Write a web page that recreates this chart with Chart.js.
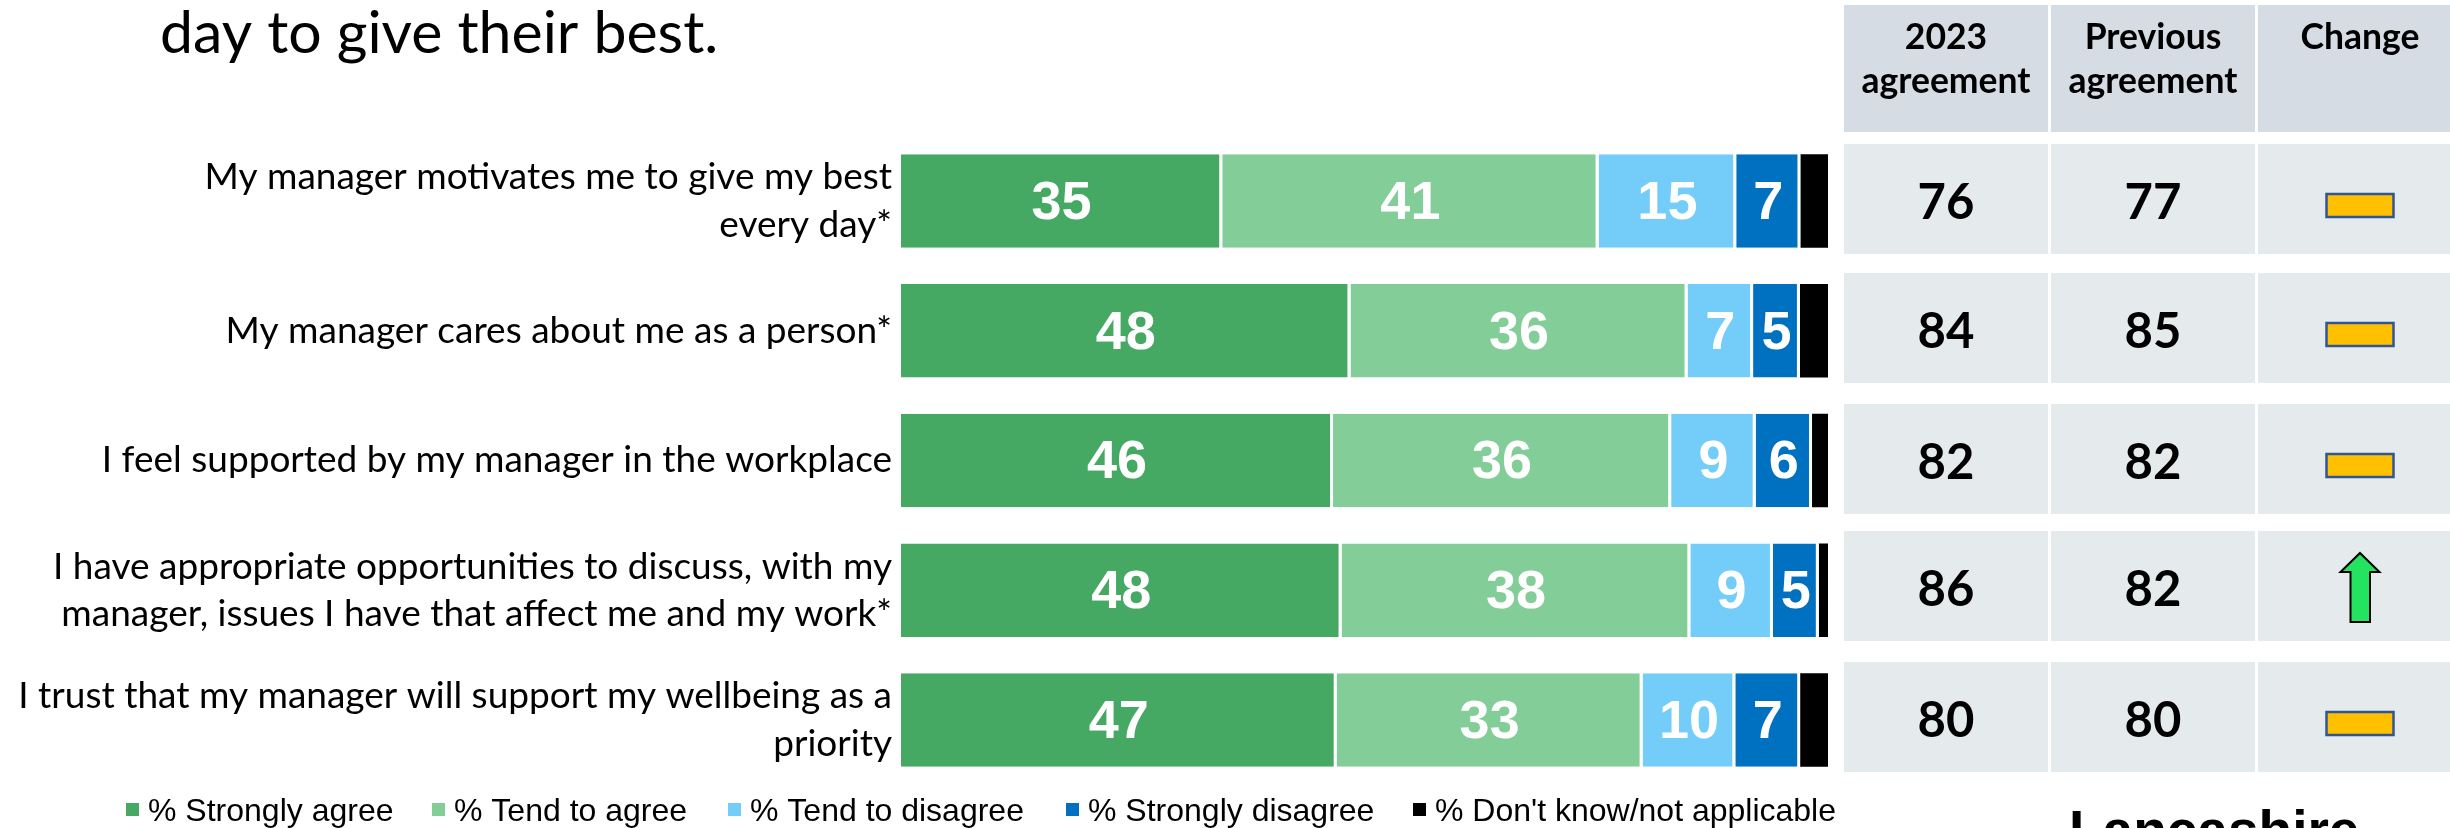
<!DOCTYPE html>
<html>
<head>
<meta charset="utf-8">
<title>Manager survey results</title>
<script src="https://cdn.jsdelivr.net/npm/chart.js@4"></script>
<style>
html, body { margin: 0; padding: 0; background: #fff; overflow: hidden; }
canvas { display: block; }
</style>
</head>
<body>
<canvas id="grafica" width="2450" height="828"></canvas>
<script>
const categories = [
    ['My manager motivates me to give my best', 'every day*'],
    'My manager cares about me as a person*',
    'I feel supported by my manager in the workplace',
    ['I have appropriate opportunities to discuss, with my', 'manager, issues I have that affect me and my work*'],
    ['I trust that my manager will support my wellbeing as a', 'priority']
];

const stronglyAgree = [35, 48, 46, 48, 47];
const tendToAgree = [41, 36, 36, 38, 33];
const tendToDisagree = [15, 7, 9, 9, 10];
const stronglyDisagree = [7, 5, 6, 5, 7];
const dontKnow = [3, 3, 1.7, 1, 3];

const agreement2023 = [76, 84, 82, 86, 80];
const agreementPrevious = [77, 85, 82, 82, 80];
const change = ['same', 'same', 'same', 'up', 'same'];

const seriesNames = ['% Strongly agree', '% Tend to agree', '% Tend to disagree', '% Strongly disagree', "% Don't know/not applicable"];
const seriesColors = ['#46a963', '#82cd98', '#74cdf9', '#0070c0', '#000000'];
const series = [stronglyAgree, tendToAgree, tendToDisagree, stronglyDisagree, dontKnow];

// 100% stacked: every row is scaled to its own total, the printed numbers stay as they are
const rowTotals = categories.map((c, i) => series.reduce((a, s) => a + s[i], 0));
const datasets = series.map((s, k) => ({
    label: seriesNames[k],
    data: s.map((v, i) => v / rowTotals[i] * 100),
    backgroundColor: seriesColors[k],
    borderColor: '#ffffff',
    borderSkipped: false,
    borderWidth: { top: 0, bottom: 0, left: 0, right: k < 4 ? 3 : 0 }
}));

const bodyFont = 'Lato';

// numbers inside the bars, the last series has none
const barNumbers = {
    id: 'barNumbers',
    afterDatasetsDraw(chart) {
        const ctx = chart.ctx;
        ctx.save();
        ctx.fillStyle = '#fff';
        ctx.font = 'bold 54px "Liberation Sans"';
        ctx.textAlign = 'center';
        ctx.textBaseline = 'middle';
        for (let k = 0; k < 4; k++) {
            chart.getDatasetMeta(k).data.forEach((bar, i) => {
                ctx.fillText(series[k][i], (bar.base + bar.x) / 2, bar.y + 3);
            });
        }
        ctx.restore();
    }
};

// table on the right with the agreement scores
const colLeft = [1844, 2051, 2258];
const colRight = [2048, 2255, 2450];
const colMiddle = [1946, 2153, 2360];
const rowTop = [144, 273, 404, 531, 662];
const rowHeight = 110;

const scoreTable = {
    id: 'scoreTable',
    beforeDraw(chart) {
        const ctx = chart.ctx;
        ctx.save();
        ctx.fillStyle = '#d6dce3';
        colLeft.forEach((x, c) => ctx.fillRect(x, 5, colRight[c] - x, 127));
        ctx.fillStyle = '#e5eaed';
        rowTop.forEach(y => {
            colLeft.forEach((x, c) => ctx.fillRect(x, y, colRight[c] - x, rowHeight));
        });

        ctx.fillStyle = '#000';
        ctx.textAlign = 'center';
        ctx.textBaseline = 'middle';
        ctx.font = 'bold 35.5px ' + bodyFont;
        ctx.fillText('2023', colMiddle[0], 38);
        ctx.fillText('agreement', colMiddle[0], 82);
        ctx.fillText('Previous', colMiddle[1], 38);
        ctx.fillText('agreement', colMiddle[1], 82);
        ctx.fillText('Change', colMiddle[2], 38);

        ctx.font = 'bold 49px ' + bodyFont;
        rowTop.forEach((y, i) => {
            ctx.fillStyle = '#000';
            ctx.fillText(agreement2023[i], colMiddle[0], y + 59);
            ctx.fillText(agreementPrevious[i], colMiddle[1], y + 59);
            if (change[i] === 'up') {
                drawUpArrow(ctx, colMiddle[2], y + 22);
            } else {
                ctx.fillStyle = '#ffc000';
                ctx.strokeStyle = '#2f5597';
                ctx.lineWidth = 2.5;
                ctx.fillRect(colMiddle[2] - 33.5, y + 50, 67, 23);
                ctx.strokeRect(colMiddle[2] - 33.5, y + 50, 67, 23);
            }
        });
        ctx.restore();
    }
};

function drawUpArrow(ctx, x, top) {
    ctx.beginPath();
    ctx.moveTo(x, top);
    ctx.lineTo(x + 19.5, top + 19);
    ctx.lineTo(x + 10, top + 19);
    ctx.lineTo(x + 10, top + 69);
    ctx.lineTo(x - 9.5, top + 69);
    ctx.lineTo(x - 9.5, top + 19);
    ctx.lineTo(x - 19.5, top + 19);
    ctx.closePath();
    ctx.fillStyle = '#24e35f';
    ctx.strokeStyle = '#000';
    ctx.lineWidth = 2;
    ctx.fill();
    ctx.stroke();
}

// heading, legend row and the logo text at the foot of the slide
const legendX = [126, 432, 728, 1066, 1413];

const slideText = {
    id: 'slideText',
    afterDraw(chart) {
        const ctx = chart.ctx;
        ctx.save();
        ctx.fillStyle = '#000';
        ctx.textBaseline = 'alphabetic';
        ctx.textAlign = 'left';
        ctx.font = '59px ' + bodyFont;
        ctx.fillText('day to give their best.', 160, 53);

        ctx.font = '32px "Liberation Sans"';
        seriesNames.forEach((name, k) => {
            ctx.fillStyle = seriesColors[k];
            ctx.fillRect(legendX[k], 803, 13, 13);
            ctx.fillStyle = '#000';
            ctx.fillText(name, legendX[k] + 22, 821);
        });

        ctx.font = 'bold 55px "Liberation Sans"';
        ctx.fillText('Lancashire', 2069, 849);
        ctx.restore();
    }
};

new Chart(document.getElementById('grafica'), {
    type: 'bar',
    data: { labels: categories, datasets: datasets },
    plugins: [scoreTable, barNumbers, slideText],
    options: {
        indexAxis: 'y',
        responsive: false,
        animation: false,
        layout: { padding: { top: 136, bottom: 43, left: 0, right: 622 } },
        datasets: { bar: { barPercentage: 0.72, categoryPercentage: 1 } },
        plugins: {
            legend: { display: false },
            title: { display: false },
            tooltip: { enabled: false }
        },
        scales: {
            x: { stacked: true, display: false, min: 0, max: 100 },
            y: {
                stacked: true,
                grid: { display: false, drawTicks: false },
                border: { display: false },
                afterFit(scale) {
                    // two line labels must not push the plot area in
                    scale.width = 901;
                    scale.paddingTop = 0;
                    scale.paddingBottom = 0;
                },
                ticks: {
                    autoSkip: false,
                    color: '#000',
                    padding: 9,
                    font: { family: bodyFont, size: 37, lineHeight: 1.28 }
                }
            }
        }
    }
});
</script>
</body>
</html>
